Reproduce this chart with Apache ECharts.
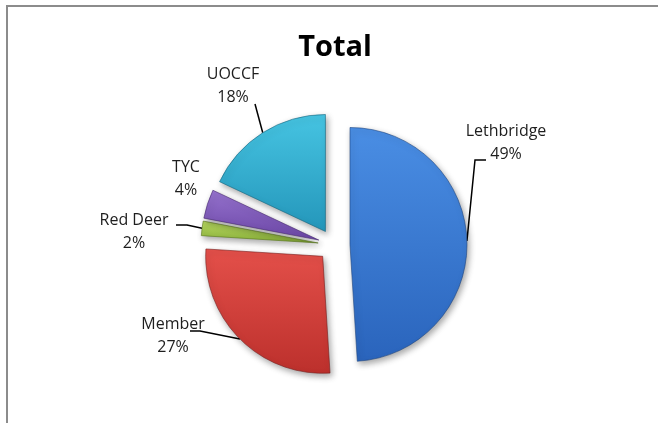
<!DOCTYPE html>
<html>
<head>
<meta charset="utf-8">
<script src="https://cdn.jsdelivr.net/npm/echarts@6/dist/echarts.min.js"></script>
<style>
  html, body { margin: 0; padding: 0; background: #fff; }
  #main { width: 658px; height: 423px; }
</style>
</head>
<body>
<div id="main"></div>
<script>
// Total
var categories = ['Lethbridge', 'Member', 'Red Deer', 'TYC', 'UOCCF'];
var shares = [49, 27, 2, 4, 18];

var pieCenter = [334, 245];
var pieRadius = 117;
var explode = 16;

// top / bottom colours of each slice
var palette = [
    ['#4A8EE4', '#2A64BC'],
    ['#E4504A', '#BC302C'],
    ['#B9DA62', '#88AF38'],
    ['#9673CE', '#6B46A6'],
    ['#46C4E2', '#2496BA']
];
var edges = ['rgba(30,70,130,0.6)', 'rgba(120,30,28,0.6)', 'rgba(90,120,30,0.6)',
    'rgba(70,40,110,0.6)', 'rgba(20,100,125,0.6)'];

// label block centres + leader line points (relative to label centre)
var labelSpots = [
    {x: 506, y: 143, line: [[-31, 17], [-20, 17]]},
    {x: 173, y: 336, line: [[27, -5], [17, -5]]},
    {x: 134, y: 232, line: [[53, -7], [42, -7]]},
    {x: 186, y: 179, line: null},
    {x: 233, y: 86, line: [[22, 18]]}
];

var chart = echarts.init(document.getElementById('main'));

function sliceStyle(i) {
    return {
        color: new echarts.graphic.LinearGradient(0, 0, 0, 1, [
            {offset: 0, color: palette[i][0]},
            {offset: 1, color: palette[i][1]}
        ]),
        borderColor: edges[i],
        borderWidth: 1,
        shadowBlur: 6,
        shadowOffsetX: 2,
        shadowOffsetY: 3,
        shadowColor: 'rgba(0,0,0,0.35)'
    };
}

var option = {
    backgroundColor: '#fff',
    animation: false,
    title: {
        text: 'Total',
        left: 335,
        top: 33,
        textAlign: 'center',
        padding: 0,
        textStyle: {
            fontFamily: 'Open Sans',
            fontWeight: 'bold',
            fontSize: 29,
            color: '#000'
        }
    },
    graphic: [{
        type: 'rect',
        silent: true,
        shape: {x: 7, y: 6, width: 700, height: 500},
        style: {fill: 'none', stroke: '#8c8c8c', lineWidth: 2}
    }],
    series: [
        {
            type: 'pie',
            center: pieCenter,
            radius: pieRadius,
            startAngle: 90,
            selectedMode: 'multiple',
            selectedOffset: explode,
            label: {show: false},
            labelLine: {show: false},
            emphasis: {disabled: true},
            data: categories.map(function (name, i) {
                return {
                    name: name,
                    value: shares[i],
                    selected: true,
                    itemStyle: sliceStyle(i),
                    select: {itemStyle: sliceStyle(i)}
                };
            })
        },
        {
            // invisible twin that only carries labels
            type: 'pie',
            silent: true,
            center: pieCenter,
            radius: pieRadius + explode,
            startAngle: 90,
            itemStyle: {color: 'rgba(0,0,0,0)'},
            emphasis: {disabled: true},
            label: {
                show: true,
                position: 'outside',
                fontFamily: 'Open Sans',
                fontSize: 16,
                lineHeight: 23,
                color: '#1e1e1e',
                formatter: function (p) {
                    return p.name + '\n' + Math.round(p.percent) + '%';
                }
            },
            labelLine: {
                show: true,
                lineStyle: {color: '#000', width: 1.5}
            },
            labelLayout: function (p) {
                var s = labelSpots[p.dataIndex];
                var res = {x: s.x, y: s.y, align: 'center', verticalAlign: 'middle'};
                if (s.line && p.labelLinePoints) {
                    var pts = [p.labelLinePoints[0]];
                    s.line.forEach(function (o) {
                        pts.push([s.x + o[0], s.y + o[1]]);
                    });
                    res.labelLinePoints = pts;
                }
                return res;
            },
            data: categories.map(function (name, i) {
                return {
                    name: name,
                    value: shares[i],
                    labelLine: {show: labelSpots[i].line !== null}
                };
            })
        }
    ]
};

chart.setOption(option);
</script>
</body>
</html>
